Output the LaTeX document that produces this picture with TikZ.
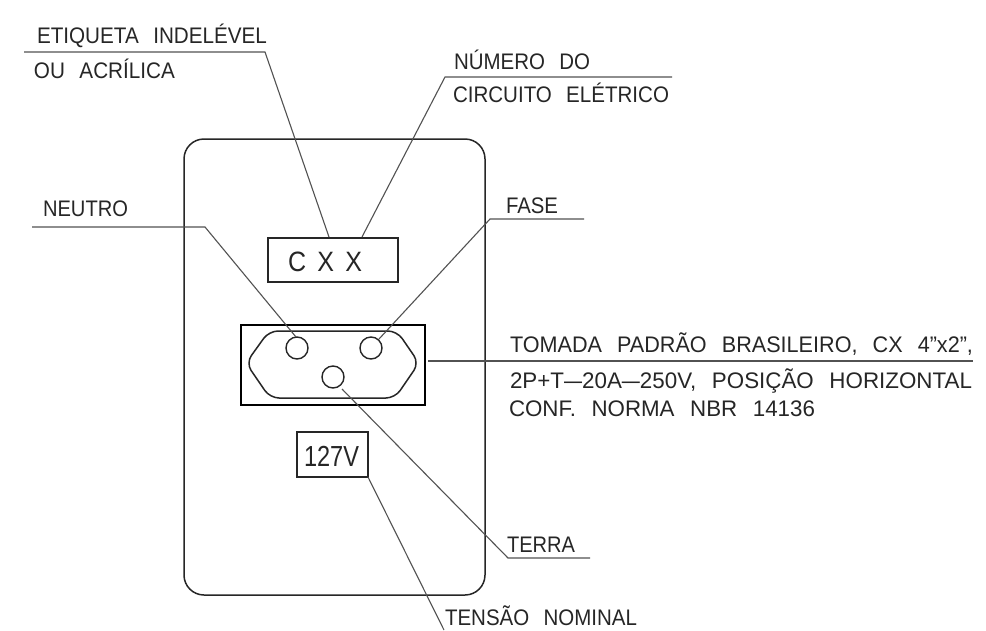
\documentclass[tikz,border=0pt]{standalone}
\usepackage{fontspec}
\usepackage{graphicx}
\setmainfont{Liberation Sans}
\tikzset{
 cadtext/.style={anchor=base west,inner sep=0pt,outer sep=0pt,font=\fontsize{22.5}{23}\selectfont,text=black!85},
 heavy/.style={draw=black!85,line width=1.5pt},
 cadbox/.style={draw=black!85,line width=1.5pt,inner sep=0pt,outer sep=0pt,anchor=north west},
 pinhole/.style={draw=black!85,line width=1.4pt,circle,minimum size=22pt,inner sep=0pt,outer sep=0pt},
 leader/.style={draw=black!68,line width=1.1pt,line join=miter},
}
\newcommand{\fitw}[2]{\resizebox{#1pt}{\height}{#2}}
\newcommand{\wsp}{\hspace{0.42em} }
\newcommand{\cdash}{\scalebox{1.45}[1]{–}}
\begin{document}
\begin{tikzpicture}[x=1pt,y=-1pt]
\useasboundingbox (0,0) rectangle (986,630);
\fill[white] (0,0) rectangle (986,630);
% plate and boxes
\draw[heavy,rounded corners=20pt] (184,139) rectangle (485,595);
\node[cadbox,minimum width=130pt,minimum height=44pt] (label) at (268,238) {};
\node[cadtext,font=\fontsize{28}{28}\selectfont] (cxx) at (288,271) {\fitw{74}{C\hspace{0.45em}X\hspace{0.45em}X}};
\node[cadbox,draw=black,minimum width=184pt,minimum height=80pt] (socket) at (241,325) {};
\draw[heavy,rounded corners=9pt] (246,363) -- (269,331) -- (397,331) -- (419,363) -- (395,398) -- (270,398) -- cycle;
\node[pinhole] (neutral) at (297,348) {};
\node[pinhole] (phase) at (371,348) {};
\node[pinhole] (earth) at (333,377) {};
\node[cadbox,minimum width=71pt,minimum height=45pt] (volt) at (297,432) {};
\node[cadtext,font=\fontsize{29}{29}\selectfont] (v127) at (304,466) {\fitw{55}{127V}};
% leader end points
\coordinate (a0) at (24,52); \coordinate (a1) at (265,52); \coordinate (a2) at (329,237);
\coordinate (b0) at (672,77); \coordinate (b1) at (445,77); \coordinate (b2) at (362,237);
\coordinate (c0) at (32,227); \coordinate (c1) at (205,227); \coordinate (c2) at (296,337);
\coordinate (d0) at (584,219); \coordinate (d1) at (490,219); \coordinate (d2) at (379,339);
\coordinate (e0) at (428,361); \coordinate (e1) at (973,361);
\coordinate (f0) at (590,558); \coordinate (f1) at (508,558); \coordinate (f2) at (342,389);
\coordinate (g0) at (368,477); \coordinate (g1) at (444,630);
\draw[leader] (a0) -- (a1) -- (a2);
\draw[leader] (b0) -- (b1) -- (b2);
\draw[leader] (c0) -- (c1) -- (c2);
\draw[leader] (d0) -- (d1) -- (d2);
\draw[leader] (e0) -- (e1);
\draw[leader] (f0) -- (f1) -- (f2);
\draw[leader] (g0) -- (g1);
% texts
\node[cadtext] (t1) at (37,43) {\fitw{230}{ETIQUETA\wsp INDELÉVEL}};
\node[cadtext] (t2) at (34,78) {\fitw{141}{OU\wsp ACRÍLICA}};
\node[cadtext] (t3) at (454,69) {\fitw{136}{NÚMERO\wsp DO}};
\node[cadtext] (t4) at (453,102) {\fitw{216}{CIRCUITO\wsp ELÉTRICO}};
\node[cadtext] (t5) at (43,216) {\fitw{85}{NEUTRO}};
\node[cadtext] (t6) at (506,213) {\fitw{52}{FASE}};
\node[cadtext] (t7) at (510,352) {\fitw{463}{TOMADA\wsp PADRÃO\wsp BRASILEIRO,\wsp CX\wsp 4”x2”,}};
\node[cadtext] (t8) at (510,388) {\fitw{462}{2P+T\cdash20A\cdash250V,\wsp POSIÇÃO\wsp HORIZONTAL}};
\node[cadtext] (t9) at (509,416) {\fitw{306}{CONF.\wsp NORMA\wsp NBR\wsp 14136}};
\node[cadtext] (t10) at (507,552) {\fitw{68}{TERRA}};
\node[cadtext] (t11) at (445,625) {\fitw{192}{TENSÃO\wsp NOMINAL}};
\end{tikzpicture}
\end{document}
